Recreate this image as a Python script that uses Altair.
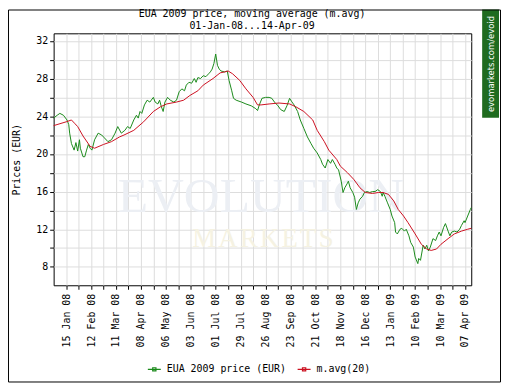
import altair as alt
import pandas as pd

# ---- data (day offsets from 01-Jan-2008) ----
green_days = [0, 4, 7, 11, 15, 17, 18, 20, 23, 25, 27, 29, 30, 33, 35, 37, 39, 41, 43, 46, 50, 54, 57, 61, 65,
              69, 72, 76, 80, 83, 86, 90, 93, 95, 97, 99, 102, 105, 108, 112, 114, 117, 119, 121, 123, 125, 128,
              131, 135, 138, 141, 144, 147, 149, 152, 155, 158, 160, 162, 165, 168, 171, 174, 176, 178, 180, 182,
              184, 186, 188, 192, 195, 197, 200, 202, 205, 211, 216, 222, 227, 229, 231, 234, 238, 242, 245, 248,
              252, 255, 259, 262, 265, 267, 270, 274, 277, 281, 285, 289, 292, 296, 300, 302, 305, 308, 311, 313,
              316, 318, 320, 323, 325, 327, 330, 331, 333, 336, 338, 340, 342, 344, 347, 349, 352, 355, 358, 361,
              364, 367, 369, 370, 372, 375, 378, 380, 383, 384, 386, 389, 391, 394, 396, 399, 401, 404, 406, 409,
              410, 412, 415, 417, 419, 421, 423, 426, 429, 431, 433, 435, 438, 440, 443, 445, 447, 450, 453, 456,
              458, 461, 462, 465, 468, 469]
green_price = [23.8, 24.1, 24.3, 24.1, 23.6, 23.1, 22.2, 21.1, 20.4, 21.2, 20.3, 21.5, 20.6, 19.7, 19.7, 20.4,
               21.0, 20.6, 20.4, 21.5, 22.2, 22.0, 21.7, 21.3, 21.5, 22.2, 22.9, 22.2, 22.5, 22.9, 22.7, 23.6,
               24.1, 23.8, 24.5, 24.3, 25.2, 25.7, 25.5, 26.0, 25.5, 25.3, 25.7, 25.0, 24.5, 25.5, 26.0, 25.7,
               25.5, 25.7, 26.6, 26.9, 26.7, 27.3, 27.6, 27.5, 28.0, 27.6, 28.1, 28.0, 28.3, 28.2, 28.5, 28.7,
               29.0, 29.6, 30.6, 29.4, 29.0, 28.8, 28.7, 28.8, 27.8, 26.7, 25.9, 25.7, 25.5, 25.3, 25.1, 24.8,
               24.6, 25.2, 25.9, 26.0, 26.0, 25.9, 25.5, 25.1, 24.7, 24.5, 25.1, 25.9, 25.6, 25.2, 24.5, 23.6,
               22.7, 21.8, 21.1, 20.6, 20.1, 19.4, 18.9, 18.5, 19.4, 19.0, 19.4, 18.9, 18.5, 18.3, 17.1, 15.9,
               16.4, 16.9, 17.1, 16.4, 15.9, 15.4, 14.1, 14.8, 15.2, 15.5, 15.9, 16.0, 15.9, 16.0, 16.0, 16.2,
               16.0, 15.5, 15.9, 15.5, 14.8, 14.1, 13.4, 12.7, 11.7, 11.5, 12.0, 12.1, 11.8, 12.0, 11.3, 10.6,
               10.1, 9.05, 8.35, 8.9, 8.7, 10.3, 9.9, 10.3, 9.7, 10.1, 11.0, 10.8, 11.3, 11.7, 11.3, 12.2, 12.6,
               11.8, 11.3, 11.7, 11.8, 11.7, 12.0, 12.4, 12.9, 12.7, 13.4, 14.1, 14.3]

mavg_days = [0, 14, 20, 24, 27, 33, 41, 46, 56, 65, 74, 79, 90, 101, 112, 120, 127, 138, 146, 153, 162, 168, 179,
             187, 192, 196, 201, 209, 216, 224, 229, 233, 242, 253, 265, 272, 281, 291, 296, 304, 309, 318, 322,
             330, 337, 344, 350, 358, 365, 370, 376, 382, 387, 393, 398, 406, 413, 419, 424, 430, 435, 443, 450,
             458, 465, 469]
mavg_price = [23.0, 23.4, 23.6, 23.2, 22.9, 21.9, 20.8, 20.6, 21.0, 21.3, 21.8, 22.0, 22.5, 23.4, 24.5, 25.0,
              25.3, 25.5, 25.7, 26.2, 26.7, 27.3, 28.0, 28.6, 28.7, 28.8, 28.5, 27.8, 26.9, 26.0, 25.2, 25.2,
              25.3, 25.4, 25.3, 25.0, 24.5, 23.6, 22.5, 21.3, 20.4, 19.4, 18.7, 18.0, 17.3, 16.4, 15.9, 15.8,
              15.9, 15.9, 15.7, 15.0, 14.1, 13.4, 12.7, 11.5, 10.4, 9.9, 9.75, 9.9, 10.4, 11.0, 11.5, 11.8,
              12.0, 12.1]

series_names = ["EUA 2009 price (EUR)", "m.avg(20)"]
series_colors = ["#1a8a1a", "#cc1020"]

title_lines = ["EUA 2009 price, moving average (m.avg)", "01-Jan-08...14-Apr-09"]

major_ticks = ["2008-01-15", "2008-02-12", "2008-03-11", "2008-04-08", "2008-05-06", "2008-06-03",
               "2008-07-01", "2008-07-29", "2008-08-26", "2008-09-23", "2008-10-21", "2008-11-18",
               "2008-12-16", "2009-01-13", "2009-02-10", "2009-03-10", "2009-04-07"]
y_ticks = [8, 10, 12, 14, 16, 18, 20, 22, 24, 26, 28, 30, 32]

start = pd.Timestamp("2008-01-01")


def to_dates(days):
    return [(start + pd.Timedelta(days=d)).strftime("%Y-%m-%d") for d in days]


df = pd.concat([
    pd.DataFrame({"date": to_dates(green_days), "price": green_price, "series": series_names[0]}),
    pd.DataFrame({"date": to_dates(mavg_days), "price": mavg_price, "series": series_names[1]}),
])

# tick positions: major ticks and the mid-points between them (gridlines every two weeks)
tick_ts = []
for s in major_ticks:
    t = pd.Timestamp(s)
    tick_ts.append(t)
    t2 = t + pd.Timedelta(days=14)
    if t2 < pd.Timestamp("2009-04-14"):
        tick_ts.append(t2)
tick_values = [alt.DateTime(year=t.year, month=t.month, date=t.day, utc=True) for t in tick_ts]

MONO = "DejaVu Sans Mono"

x_enc = alt.X(
    "date:T",
    scale=alt.Scale(type="utc", domain=[alt.DateTime(year=2008, month=1, date=1, utc=True),
                                        alt.DateTime(year=2009, month=4, date=14, utc=True)]),
    axis=alt.Axis(values=tick_values, title=None, labelAngle=270, labelAlign="right", labelBaseline="middle",
                  labelExpr="(round((datum.value - utc(2008,0,15)) / 86400000 / 14) % 2 == 0) ? utcFormat(datum.value, '%d %b %y') : ''",
                  tickSize=4, labelPadding=4, grid=True, domain=False, labelFlush=False, labelOverlap=False),
)
y_enc = alt.Y(
    "price:Q",
    scale=alt.Scale(domain=[6.05, 32.8], nice=False, zero=False),
    axis=alt.Axis(values=y_ticks, labelExpr="datum.value % 4 == 0 ? datum.value : ''", title="Prices (EUR)",
                  titleX=-37, titleY=127, titleAngle=270, titleAlign="center", titleBaseline="middle",
                  tickSize=4, labelPadding=2, grid=True, domain=False, labelFlush=False, labelOverlap=False),
)

sym = "M-1,0L1,0M-0.25,-0.25L0.25,-0.25L0.25,0.25L-0.25,0.25Z"

lines = alt.Chart(df).mark_line(strokeWidth=1, interpolate="linear").encode(
    x=x_enc, y=y_enc,
    color=alt.Color("series:N", scale=alt.Scale(domain=series_names, range=series_colors),
                    sort=series_names,
                    legend=alt.Legend(title=None, orient="none", legendX=94, legendY=331, direction="horizontal",
                                      columns=2, symbolType=sym, symbolSize=170, symbolStrokeWidth=1.2,
                                      labelOffset=5, columnPadding=8, padding=0)),
)

HS = "\u200a"
wm1 = alt.Chart(pd.DataFrame({"t": ["EVOLUTION"]})).mark_text(
    font="Liberation Serif", fontSize=50, color="#eceff4", align="center", baseline="middle").encode(
    x=alt.value(209), y=alt.value(165), text="t:N")
wm2 = alt.Chart(pd.DataFrame({"t": [HS.join("MARKETS")]})).mark_text(
    font="Liberation Serif", fontSize=27, color="#f5f2e2", align="center", baseline="middle").encode(
    x=alt.value(211), y=alt.value(207), text="t:N")

title1 = alt.Chart(pd.DataFrame({"t": [title_lines[0]]})).mark_text(
    font=MONO, fontSize=10, color="black", align="center", baseline="alphabetic").encode(
    x=alt.value(200), y=alt.value(-16.5), text="t:N")
title2 = alt.Chart(pd.DataFrame({"t": [title_lines[1]]})).mark_text(
    font=MONO, fontSize=10, color="black", align="center", baseline="alphabetic").encode(
    x=alt.value(200), y=alt.value(-4), text="t:N")

banner = alt.Chart(pd.DataFrame({"t": ["evomarkets.com/evoid"]})).mark_rect(color="#1f6b1f").encode(
    x=alt.value(432), x2=alt.value(449), y=alt.value(-24), y2=alt.value(85))
banner_txt = alt.Chart(pd.DataFrame({"t": ["evomarkets.com/evoid"]})).mark_text(
    font="DejaVu Sans", fontSize=8.5, color="white", angle=270, align="center", baseline="middle").encode(
    x=alt.value(441), y=alt.value(31), text="t:N")
frame = alt.Chart(pd.DataFrame({"t": [0]})).mark_rect(fill=None, stroke="black", strokeWidth=1).encode(
    x=alt.value(-45.5), x2=alt.value(450.5), y=alt.value(-23.5), y2=alt.value(351.5))

chart = alt.layer(wm1, wm2, lines, title1, title2, banner, banner_txt, frame).properties(
    width=421, height=254,
    padding={"left": 46, "top": 24, "right": 31, "bottom": 98},
    autosize=alt.AutoSizeParams(type="none"),
    background="white",
).configure_axis(
    labelFont=MONO, labelFontSize=10, labelColor="black", titleFont=MONO, titleFontSize=10,
    titleFontWeight="normal", titleColor="black", tickColor="black", gridColor="#dddddd", gridWidth=1,
).configure_legend(
    labelFont=MONO, labelFontSize=10, labelColor="black",
).configure_view(stroke="black", strokeWidth=1)

chart.save("out.html", embed_options={"renderer": "svg", "actions": False})
